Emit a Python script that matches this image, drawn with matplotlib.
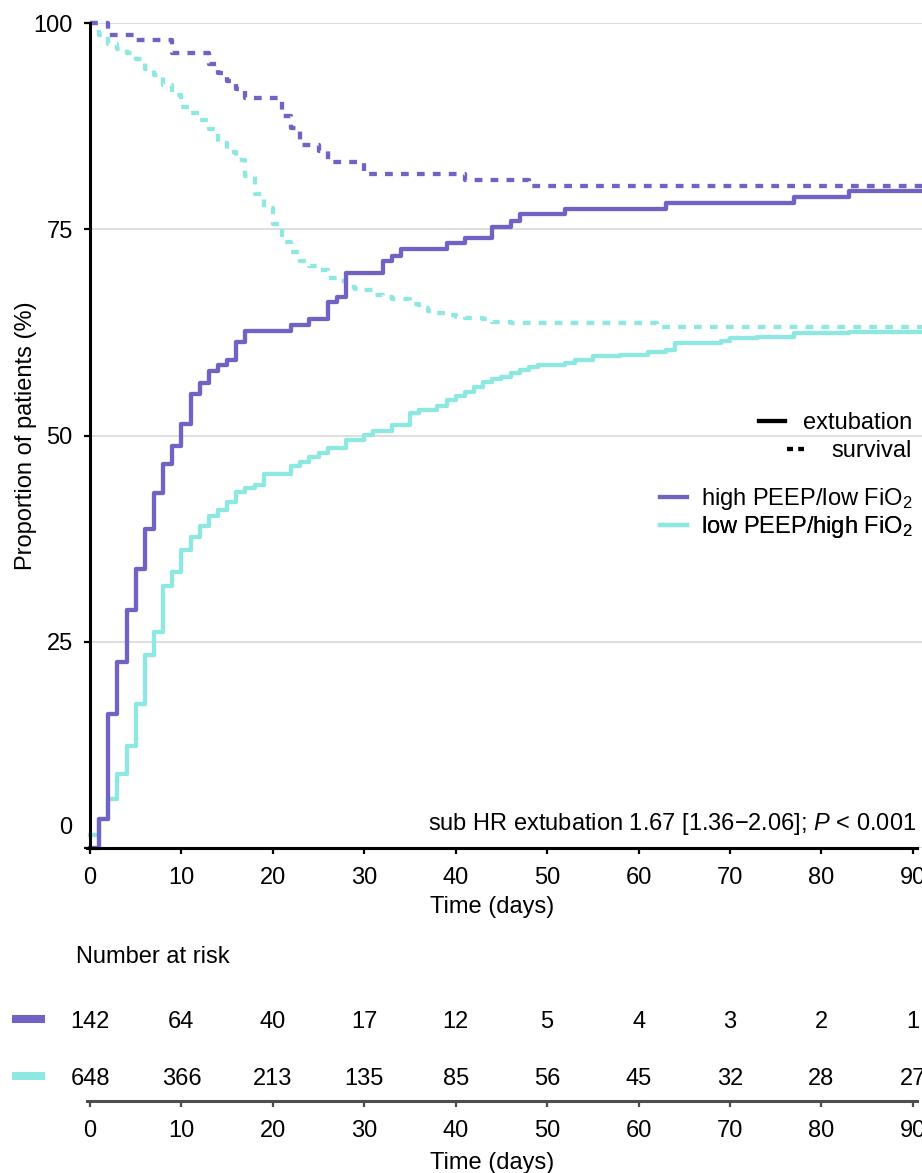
import numpy as np
import matplotlib
matplotlib.use('Agg')
import matplotlib.pyplot as plt
from matplotlib.lines import Line2D
from matplotlib.transforms import ScaledTranslation

plt.rcParams['font.family'] = ['Liberation Sans', 'DejaVu Sans']
plt.rcParams['mathtext.fontset'] = 'custom'
plt.rcParams['mathtext.rm'] = 'Liberation Sans'
plt.rcParams['mathtext.it'] = 'Liberation Sans:italic'

# colours of the two groups
purple = '#7163c4'
cyan = '#8ee8e2'

# extubation (cumulative incidence, %) - high PEEP/low FiO2
ext_high_t = [0, 1, 2, 3, 4, 5, 6, 7, 8, 9, 10, 11, 12, 13, 14, 15, 16, 17,
              22, 24, 26, 27, 28, 32, 33, 34, 39, 41, 44, 46, 47, 52, 63, 77, 83]
ext_high_v = [0, 3.5, 16.2, 22.5, 28.9, 33.8, 38.7, 43.0, 46.5, 48.7, 51.4, 55.0, 56.4, 57.8, 58.5, 59.2, 61.3, 62.7,
              63.4, 64.1, 66.2, 66.8, 69.7, 71.2, 71.8, 72.6, 73.3, 74.0, 75.3, 76.0, 76.8, 77.4, 78.2, 78.9, 79.6]

# extubation - low PEEP/high FiO2
ext_low_t = [0, 1, 2, 3, 4, 5, 6, 7, 8, 9, 10, 11, 12, 13, 14, 15, 16, 17, 18, 19,
             22, 23, 24, 25, 26, 28, 30, 31, 33, 35, 36, 38, 39, 40, 41, 42, 43, 44, 45,
             46, 47, 48, 49, 52, 53, 55, 58, 61, 63, 64, 69, 70, 73, 77, 83]
ext_low_v = [1.6, 3.5, 6.0, 9.0, 12.4, 17.5, 23.4, 26.2, 31.7, 33.4, 36.1, 37.7, 39.0, 40.3, 41.0, 42.0, 43.1, 43.6, 44.0, 45.3,
             46.3, 46.8, 47.4, 47.9, 48.5, 49.5, 50.1, 50.6, 51.3, 52.7, 53.1, 53.6, 54.3, 54.8, 55.3, 55.9, 56.5, 56.8, 57.1,
             57.6, 58.0, 58.3, 58.5, 58.8, 59.2, 59.6, 59.8, 60.1, 60.4, 61.2, 61.5, 61.8, 62.0, 62.4, 62.6]

# survival (%) - high PEEP/low FiO2
surv_high_t = [0, 2, 5, 9, 13, 14, 15, 16, 17, 21, 22, 23, 25, 26, 30, 41, 48]
surv_high_v = [100, 98.6, 97.9, 96.4, 95.0, 94.0, 93.0, 92.0, 90.9, 88.7, 87.3, 85.2, 84.5, 83.1, 81.7, 81.0, 80.3]

# survival - low PEEP/high FiO2
surv_low_t = [0, 1, 2, 3, 4, 5, 6, 7, 8, 9, 10, 11, 12, 13, 14, 15, 16, 17, 18, 19, 20,
              21, 22, 23, 24, 25, 26, 27, 28, 29, 30, 31, 32, 33, 34, 35, 36, 37, 38, 39,
              40, 41, 43, 44, 46, 62]
surv_low_v = [100, 98.6, 97.4, 96.8, 96.4, 95.6, 94.4, 93.7, 92.5, 91.3, 89.8, 89.1, 88.3, 87.1, 85.4, 84.4, 83.4, 81.4, 79.3, 77.6, 75.6,
              73.5, 72.2, 71.2, 70.6, 70.1, 69.1, 68.7, 68.0, 67.8, 67.6, 67.0, 66.8, 66.6, 66.5, 66.0, 65.5, 65.1, 64.9, 64.6,
              64.4, 64.2, 64.1, 63.8, 63.6, 63.1]

# number at risk table
risk_days = [0, 10, 20, 30, 40, 50, 60, 70, 80, 90]
risk_high = [142, 64, 40, 17, 12, 5, 4, 3, 2, 1]
risk_low = [648, 366, 213, 135, 85, 56, 45, 32, 28, 27]

t_end = 91
fs = 17
lw = 3.1
dash = (0, (1.8, 1.9))

fig = plt.figure(figsize=(9.22, 11.73), dpi=100)

# main plot
ax = fig.add_axes([90/922, 1 - 848/1173, 832/922, 825/1173])
ax.set_xlim(0, t_end)
ax.set_ylim(0, 100)


def draw(t, v, color, ls):
    # carry last value on to the end of follow-up
    tt = list(t) + [t_end]
    vv = list(v) + [v[-1]]
    ax.step(tt, vv, where='post', color=color, lw=lw, linestyle=ls, clip_on=False)


draw(surv_low_t, surv_low_v, cyan, dash)
draw(surv_high_t, surv_high_v, purple, dash)
draw(ext_low_t, ext_low_v, cyan, '-')
draw(ext_high_t, ext_high_v, purple, '-')

ax.set_yticks([0, 25, 50, 75, 100])
ax.set_xticks(risk_days)
ax.yaxis.grid(True, color='#d4d4d4', lw=1.1)
ax.set_axisbelow(True)
for s in ['top', 'right']:
    ax.spines[s].set_visible(False)
ax.spines['left'].set_linewidth(2.2)
ax.spines['bottom'].set_linewidth(2.2)
ax.spines['bottom'].set_bounds(-0.3, 90.4)
ax.tick_params(axis='both', direction='out', length=4.5, width=1.6, labelsize=fs)
ax.tick_params(axis='x', pad=9.5)
ax.tick_params(axis='y', pad=8)

# the "0" label sits a bit higher in the original
lab0 = ax.get_yticklabels()[0]
lab0.set_transform(lab0.get_transform() + ScaledTranslation(0, 22/100, fig.dpi_scale_trans))

ax.set_ylabel('Proportion of patients (%)', fontsize=fs)
ax.yaxis.set_label_coords(-0.064, 0.5)
ax.set_xlabel('Time (days)', fontsize=fs)
ax.xaxis.set_label_coords(0.483, -0.058)

ax.text(90.4, 2.2, 'sub HR extubation 1.67 [1.36\u22122.06]; $\\mathit{P}$ < 0.001',
        ha='right', va='baseline', fontsize=fs)

# legends, one per entry so each is right aligned
entries = [
    (Line2D([], [], color='black', lw=lw), 'extubation', 0.5152, 1.1, 0.77),
    (Line2D([], [], color='black', lw=lw, linestyle=(0, (1.4, 1.2))), 'survival', 0.4812, 0.74, 1.15),
    (Line2D([], [], color=purple, lw=lw), 'high PEEP/low FiO$_2$', 0.4231, 1.15, 0.56),
    (Line2D([], [], color=cyan, lw=lw), 'low PEEP/high FiO$_2$', 0.3891, 1.15, 0.56),
]
for h, lab, y, hl, tp in entries:
    leg = ax.legend([h], [lab], loc='center right', bbox_to_anchor=(0.988, y),
                    frameon=False, fontsize=fs, borderpad=0, borderaxespad=0,
                    handlelength=hl, handletextpad=tp)
    ax.add_artist(leg)

# number at risk table
rax = fig.add_axes([90/922, 1 - 1101/1173, 832/922, 171/1173])
rax.set_xlim(0, t_end)
rax.set_ylim(-0.4386, 2.561)
for s in ['top', 'right', 'left']:
    rax.spines[s].set_visible(False)
rax.spines['bottom'].set_color('#4d4d4d')
rax.spines['bottom'].set_linewidth(2.2)
rax.spines['bottom'].set_bounds(-0.3, 90.4)
rax.set_yticks([])
rax.set_xticks(risk_days)
rax.tick_params(axis='x', direction='out', length=4.5, width=1.6, color='#4d4d4d',
                labelsize=fs, pad=9.5)
rax.set_xlabel('Time (days)', fontsize=fs)
rax.xaxis.set_label_coords(0.483, -0.30)

rax.text(-1.53, 1.982, 'Number at risk', ha='left', va='baseline', fontsize=fs)
for d, a, b in zip(risk_days, risk_high, risk_low):
    rax.text(d, 0.842, str(a), ha='center', va='baseline', fontsize=fs, clip_on=False)
    rax.text(d, -0.158, str(b), ha='center', va='baseline', fontsize=fs, clip_on=False)

rax.plot([-8.5, -4.9], [1, 1], color=purple, lw=5.8, solid_capstyle='butt', clip_on=False)
rax.plot([-8.5, -4.9], [0, 0], color=cyan, lw=5.8, solid_capstyle='butt', clip_on=False)

fig.savefig('out.png', dpi=100)
